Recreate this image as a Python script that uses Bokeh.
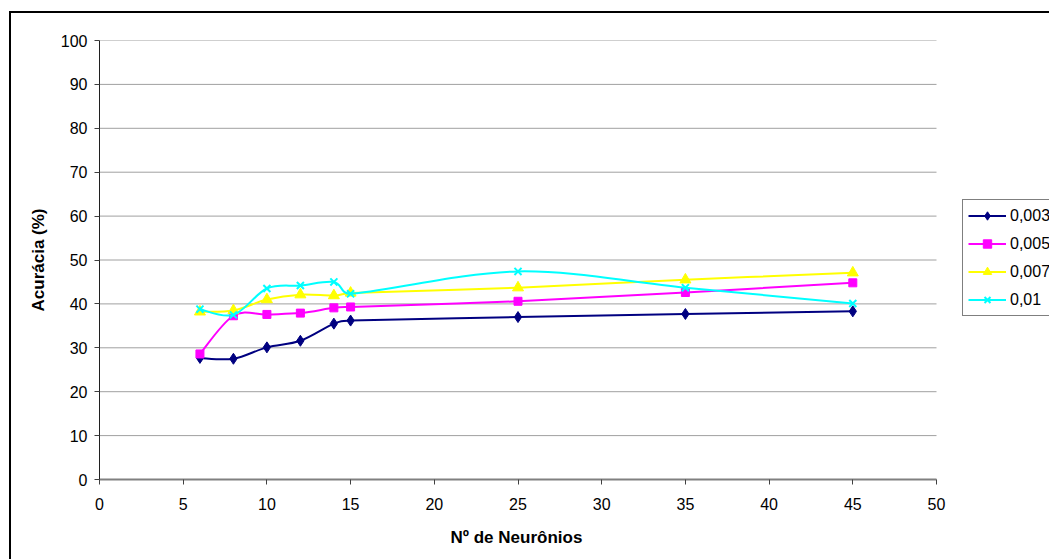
import math
from bokeh.plotting import figure
from bokeh.models import (Range1d, FixedTicker, Legend, LegendItem, ColumnDataSource, Title)
from bokeh.embed import file_html
from bokeh.resources import INLINE

neurons = [6, 8, 10, 12, 14, 15, 25, 35, 45]
s0003 = [27.7, 27.5, 30.1, 31.6, 35.5, 36.2, 37.0, 37.7, 38.3]
s0005 = [28.6, 37.3, 37.6, 37.9, 39.1, 39.3, 40.6, 42.6, 44.8]
s0007 = [38.2, 38.5, 41.0, 42.1, 41.9, 42.5, 43.7, 45.5, 47.1]
s001 = [38.8, 37.5, 43.5, 44.2, 45.0, 42.3, 47.4, 43.7, 40.1]
labels = ["0,003", "0,005", "0,007", "0,01"]
x_ticks = list(range(0, 51, 5))
y_ticks = list(range(0, 101, 10))

FONT = "Liberation Sans"
W, H = 1049, 559
L, T, B = 99, 40, 79
PLOT_W = 837                      # width of the plotting area in px
FH = H - T - B
X0, X1 = x_ticks[0], x_ticks[-1]
x_end = X0 + (X1 - X0) * (W - L) / PLOT_W   # frame runs to the window edge
SX, SY = PLOT_W / (X1 - X0), FH / 100.0

p = figure(width=W, height=H, output_backend="svg", toolbar_location=None,
           x_range=Range1d(X0, x_end), y_range=Range1d(0, 100),
           min_border_left=L, min_border_right=0, min_border_top=T, min_border_bottom=B)
p.outline_line_color = None
p.background_fill_color = "white"
p.border_fill_alpha = 0
p.styles = {
    "background-color": "white",
    "background-image": "linear-gradient(#000, #000), linear-gradient(#000, #000)",
    "background-size": "2px 100%, 100% 2px",
    "background-position": "9px 11px, 9px 11px",
    "background-repeat": "no-repeat",
}

p.xgrid.visible = False
p.ygrid.visible = False
gy = y_ticks[1:]
p.segment(x0=[X0] * len(gy), y0=gy, x1=[X1] * len(gy), y1=gy,
          line_color="#a0a0a0", line_width=1)

p.xaxis.ticker = FixedTicker(ticks=x_ticks)
p.yaxis.ticker = FixedTicker(ticks=y_ticks)
p.xaxis.bounds = (X0, X1)
for ax in (p.xaxis[0], p.yaxis[0]):
    ax.major_label_text_font = FONT
    ax.major_label_text_font_size = "16px"
    ax.major_label_text_color = "black"
    ax.axis_label_text_font = FONT
    ax.axis_label_text_font_size = "17px"
    ax.axis_label_text_font_style = "bold"
    ax.axis_label_text_color = "black"
    ax.minor_tick_line_color = None
    ax.major_tick_in = 0
    ax.major_tick_out = 5
    ax.major_tick_line_color = "#404040"
p.yaxis.axis_label = "Acurácia (%)"
p.xaxis.axis_line_color = "#808080"
p.xaxis.axis_line_width = 2
p.yaxis.axis_line_color = "#202020"
p.xaxis.major_label_standoff = 13
p.yaxis.major_label_standoff = 7
p.yaxis.axis_label_standoff = 10

xtitle = Title(text="Nº de Neurônios", align="left", offset=343, padding=8,
               text_font=FONT, text_font_size="17px", text_font_style="bold",
               text_color="black")
p.add_layout(xtitle, "below")


def smooth(xs, ys):
    pts = [(x * SX, y * SY) for x, y in zip(xs, ys)]
    n = len(pts)
    d = dict(x0=[], y0=[], x1=[], y1=[], cx0=[], cy0=[], cx1=[], cy1=[])
    dist = lambda a, b: math.hypot(a[0] - b[0], a[1] - b[1])
    for i in range(n - 1):
        p1, p2 = pts[i], pts[i + 1]
        p0 = pts[i - 1] if i > 0 else p1
        p3 = pts[i + 2] if i + 2 < n else p2
        d12 = dist(p1, p2)
        d02 = dist(p0, p2)
        d13 = dist(p1, p3)
        f0 = 1 / 6.0
        f1 = 1 / 6.0
        if d02 / 6.0 >= d12 / 2.0 and d02 > 0:
            f0 = d12 / 2.0 / d02
        if d13 / 6.0 >= d12 / 2.0 and d13 > 0:
            f1 = d12 / 2.0 / d13
        c1 = (p1[0] + (p2[0] - p0[0]) * f0, p1[1] + (p2[1] - p0[1]) * f0)
        c2 = (p2[0] - (p3[0] - p1[0]) * f1, p2[1] - (p3[1] - p1[1]) * f1)
        d["x0"].append(p1[0] / SX); d["y0"].append(p1[1] / SY)
        d["x1"].append(p2[0] / SX); d["y1"].append(p2[1] / SY)
        d["cx0"].append(c1[0] / SX); d["cy0"].append(c1[1] / SY)
        d["cx1"].append(c2[0] / SX); d["cy1"].append(c2[1] / SY)
    return ColumnDataSource(d)


series = [s0003, s0005, s0007, s001]
colors = ["#000080", "#ff00ff", "#ffff00", "#00ffff"]
markers = ["diamond", "square", "triangle", "x"]
sizes = [11, 8, 11, 10]

items = []
for lab, ys, col, mk, sz in zip(labels, series, colors, markers, sizes):
    src = smooth(neurons, ys)
    br = p.bezier(x0="x0", y0="y0", x1="x1", y1="y1", cx0="cx0", cy0="cy0",
                  cx1="cx1", cy1="cy1", source=src, line_color=col, line_width=2)
    if mk == "x":
        sr = p.scatter(x=neurons, y=ys, marker=mk, size=sz, line_color=col,
                       line_width=2)
    else:
        sr = p.scatter(x=neurons, y=ys, marker=mk, size=sz, fill_color=col,
                       line_color=col, line_width=1)
    items.append(LegendItem(label=lab, renderers=[br, sr]))

legend = Legend(items=items, location=(863, 163))
legend.label_text_font = FONT
legend.label_text_font_size = "16px"
legend.label_text_color = "black"
legend.glyph_width = 38
legend.glyph_height = 21
legend.label_height = 21
legend.label_standoff = 4
legend.spacing = 7
legend.padding = 5
legend.margin = 0
legend.border_line_color = "black"
legend.border_line_width = 1
legend.background_fill_color = "white"
legend.background_fill_alpha = 1
p.add_layout(legend, "center")

open("out.html", "w").write(file_html(p, INLINE))
